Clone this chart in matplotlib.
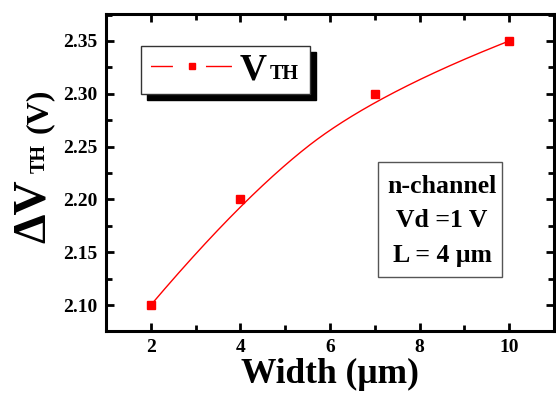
import numpy as np
import matplotlib
matplotlib.use("Agg")
import matplotlib.pyplot as plt
from matplotlib.lines import Line2D
from matplotlib.legend_handler import HandlerTuple
from matplotlib.patches import Shadow, Rectangle
from matplotlib.offsetbox import TextArea, DrawingArea
from matplotlib.ticker import MultipleLocator, FormatStrFormatter

# ---- data ----
width_um = [2, 4, 7, 10]
delta_vth = [2.10, 2.20, 2.30, 2.35]
x_ticks = [2, 4, 6, 8, 10]
y_ticks = [2.10, 2.15, 2.20, 2.25, 2.30, 2.35]
legend_label = "V"
legend_sub = "TH"
info_lines = ["n-channel", "Vd =1 V", "L = 4 \u03bcm"]

plt.rcParams["font.family"] = ["Liberation Serif", "DejaVu Serif"]
plt.rcParams["font.weight"] = "bold"


def clamped_bspline(xp, yp, k=2, n=400):
    """Clamped B-spline (Origin-style 'B-Spline' connect) with data as control points."""
    P = np.column_stack([xp, yp]).astype(float)
    m = len(P)
    knots = np.concatenate([np.zeros(k), np.linspace(0, 1, m - k + 1), np.ones(k)])
    t = np.linspace(0, 1 - 1e-12, n)
    N = np.zeros((n, len(knots) - 1))
    for i in range(len(knots) - 1):
        N[:, i] = (knots[i] <= t) & (t < knots[i + 1])
    for d in range(1, k + 1):
        Nn = np.zeros((n, len(knots) - 1 - d))
        for i in range(len(knots) - 1 - d):
            a = knots[i + d] - knots[i]
            b = knots[i + d + 1] - knots[i + 1]
            left = (t - knots[i]) / a * N[:, i] if a > 0 else 0
            right = (knots[i + d + 1] - t) / b * N[:, i + 1] if b > 0 else 0
            Nn[:, i] = left + right
        N = Nn
    C = N @ P
    return C[:, 0], C[:, 1]


W, H = 556, 394
fig = plt.figure(figsize=(W / 100, H / 100), dpi=100)
ax = fig.add_axes([106 / W, 1 - 331 / H, (554 - 106) / W, (331 - 14) / H])

cx, cy = clamped_bspline(width_um, delta_vth)
ax.plot(cx, cy, color="red", lw=1.0, zorder=3)
ax.plot(width_um, delta_vth, ls="none", marker="s", ms=5.5, color="red",
        mec="red", zorder=4)

ax.set_xlim(1, 11)
ax.set_ylim(2.0755, 2.3755)
ax.set_xticks(x_ticks)
ax.set_yticks(y_ticks)
ax.xaxis.set_minor_locator(MultipleLocator(1))
ax.yaxis.set_minor_locator(MultipleLocator(0.025))
ax.yaxis.set_major_formatter(FormatStrFormatter("%.2f"))
ax.tick_params(which="both", direction="in", top=True, right=True, width=2)
ax.tick_params(which="major", length=6, labelsize=14, pad=6)
ax.tick_params(which="minor", length=4)
for lab in ax.get_xticklabels() + ax.get_yticklabels():
    lab.set_fontweight("bold")
for sp in ax.spines.values():
    sp.set_linewidth(2.2)

ax.set_xlabel("Width (\u03bcm)", fontsize=25.5, fontweight="bold", labelpad=1)

# y label: large "ΔV", small "TH", medium "(V)"
fig.text(45 / W, 1 - 243 / H, "\u0394V", rotation=90, rotation_mode="anchor",
         ha="left", va="baseline", fontsize=34, fontweight="bold")
fig.text(45 / W, 1 - 173 / H, "TH", rotation=90, rotation_mode="anchor",
         ha="left", va="baseline", fontsize=14.5, fontweight="bold")
fig.text(47 / W, 1 - 133 / H, "(V)", rotation=90, rotation_mode="anchor",
         ha="left", va="baseline", fontsize=23, fontweight="bold")

# legend: line - marker - line, then "V" + "TH"
LFS = 27
dash_seq = (15.8, 23.8, 18.7, 30)
h_line = Line2D([], [], color="red", lw=1, ls=(sum(dash_seq) - 2.5, dash_seq))
h_mark = Line2D([], [], color="red", ls="none", marker="s", ms=5)
leg = ax.legend([(h_line, h_mark)], [legend_label],
                handler_map={tuple: HandlerTuple(ndivide=1, pad=0)},
                loc="upper left", bbox_to_anchor=(0.078, 0.899),
                borderaxespad=0, fancybox=False, framealpha=1,
                edgecolor="#333333", handlelength=2.386, handletextpad=0.075,
                borderpad=0.17, prop={"family": "Liberation Serif",
                                      "weight": "bold", "size": LFS})
leg.get_frame().set_linewidth(1.0)
leg.set_zorder(6)
sub = TextArea(legend_sub, textprops=dict(family="Liberation Serif",
                                          fontweight="bold", fontsize=14.5))
sub.set_figure(fig)
spacer = DrawingArea(1.5, 0)
spacer.set_figure(fig)
item_box = leg._legend_handle_box.get_children()[0].get_children()[0]
item_box.get_children().append(sub)
item_box.get_children().append(spacer)

# info box
ax.add_patch(Rectangle((0.6071, 0.1703), 0.2768, 0.3628, transform=ax.transAxes,
                       fc="white", ec="#555555", lw=1, zorder=5))
baselines_px = [193, 227, 262]
for line, by in zip(info_lines, baselines_px):
    ax.text(0.75, (331 - by) / 317, line, transform=ax.transAxes,
            ha="center", va="baseline", fontsize=18.5, fontweight="bold",
            zorder=6)

fig.canvas.draw()
sh = Shadow(leg.get_frame(), 4.3, -4.3, color="black", alpha=1, zorder=5.5)
ax.add_artist(sh)
sh.set_clip_on(False)

fig.savefig("out.png", dpi=100)
